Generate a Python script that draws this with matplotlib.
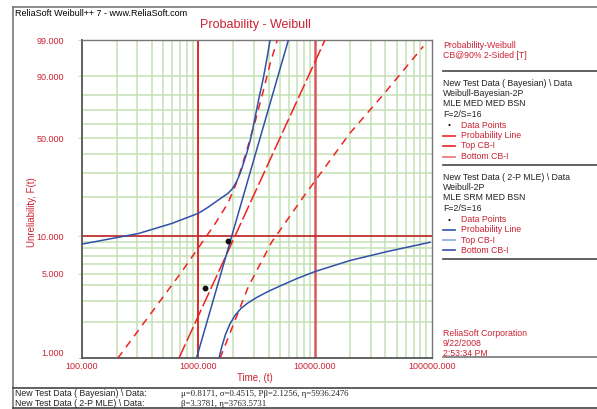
import numpy as np
import matplotlib
matplotlib.use('Agg')
import matplotlib.pyplot as plt
from matplotlib.lines import Line2D

# Weibull parameters as printed under the chart
bayes_beta, bayes_eta = 2.1256, 5936.2476
mle_beta, mle_eta = 3.3781, 3763.5731

# failure data points (time, median rank %)
data_time = [1141, 1807]
data_unrel = [3.80, 9.24]

# confidence bound curves (time, unreliability %)
blue_top_t = [97, 306, 592, 1000, 1211, 1438, 1661, 1797, 1932, 2063, 2202, 2322, 2417,
              2588, 2773, 2913, 3059, 3312, 3606, 3879, 4157]
blue_top_f = [8.6, 10.5, 12.6, 15.1, 16.8, 18.7, 20.4, 21.4, 22.8, 24.8, 27.7, 30.9, 34.2,
              40.1, 48.0, 55.7, 64.1, 77.9, 89.0, 96.1, 99.2]
blue_bot_t = [1514, 1597, 1711, 1869, 2063, 2322, 2667, 3184, 3957, 5013, 7012, 10000,
              19950, 41150, 96700]
blue_bot_f = [1.03, 1.27, 1.58, 1.93, 2.27, 2.59, 2.88, 3.20, 3.57, 3.96, 4.56, 5.20,
              6.39, 7.53, 8.95]
red_top_t = [204, 721, 1390, 1797, 2104, 2368, 2667, 3061, 3585, 4116, 4753]
red_top_f = [1.0, 5.18, 12.5, 18.1, 25.0, 33.5, 45.0, 61.3, 81.6, 94.5, 99.0]
red_bot_t = [1535, 2681, 4256, 8206, 19950, 38480, 84750]
red_bot_f = [1.0, 3.9, 9.0, 20.9, 53.6, 80.0, 98.3]

# axis ticks / grid levels
y_ticks = [1, 5, 10, 50, 90, 99]
y_grid = [2, 3, 4, 5, 6, 7, 8, 9, 20, 30, 40, 50, 60, 70, 80, 90]
x_ticks = [100, 1000, 10000, 100000]


def wb(f):
    # Weibull probability scale
    f = np.asarray(f, dtype=float) / 100.0
    return np.log(-np.log(1 - f))


W, H = 597, 409
fig = plt.figure(figsize=(W / 100, H / 100), dpi=100)
plt.rcParams['font.family'] = ['Liberation Sans', 'DejaVu Sans']


def fx(x):
    return x / W


def fy(y):
    return 1 - y / H


red_txt = '#cc2233'
green = '#c4e0b4'
blue = '#3050a8'
red = '#ee2222'

ax = fig.add_axes([fx(81.6), fy(358.3), fx(431.7) - fx(81.6), fy(40) - fy(358.3)])
ax.set_xscale('log')
ax.set_xlim(100, 100000)
ax.set_ylim(wb(1), wb(99))

# grid
for g in y_grid:
    ax.axhline(wb(g), color=green, lw=1.1, zorder=1)
for dec in [100, 1000, 10000]:
    for m in range(2, 10):
        ax.axvline(dec * m, color=green, lw=1.1, zorder=1)
ax.axvline(1000, color='#e02828', lw=1.4, zorder=2)
ax.axvline(10000, color='#d85858', lw=1.8, zorder=2)
ax.axhline(wb(10), color='#c03030', lw=1.3, zorder=2)

# Bayesian (red) lines
w_line = np.array([wb(1), wb(99)])
ax.plot(bayes_eta * np.exp(w_line / bayes_beta), w_line, color=red, lw=1.1,
        dashes=(10, 2.5), zorder=3)
ax.plot(red_top_t, wb(red_top_f), color=red, lw=1.1, dashes=(5, 4), zorder=3)
ax.plot(red_bot_t, wb(red_bot_f), color=red, lw=1.1, dashes=(5, 4), zorder=3)

# 2P MLE (blue) lines
ax.plot(mle_eta * np.exp(w_line / mle_beta), w_line, color=blue, lw=1.1, zorder=4)
ax.plot(blue_top_t, wb(blue_top_f), color=blue, lw=1.1, zorder=4)
ax.plot(blue_bot_t, wb(blue_bot_f), color=blue, lw=1.1, zorder=4)

ax.plot(data_time, wb(data_unrel), 'o', color='#111111', ms=3.2, zorder=5)

ax.set_xticks(x_ticks)
ax.set_xticklabels(['%.3f' % v for v in x_ticks], color=red_txt, fontsize=6.5)
ax.set_yticks(wb(y_ticks))
ax.set_yticklabels(['%.3f' % v for v in y_ticks], color=red_txt, fontsize=6.5)
ax.minorticks_off()
ax.tick_params(axis='y', length=3, color=green, pad=9.5)
ax.tick_params(axis='x', length=0, pad=3)
ax.get_yticklabels()[0].set_va('bottom')
for s in ['left', 'bottom']:
    ax.spines[s].set_color('#555555')
    ax.spines[s].set_linewidth(1.3)
for s in ['top', 'right']:
    ax.spines[s].set_color('#777777')
    ax.spines[s].set_linewidth(1.0)

fig.text(fx(255), fy(378), 'Time, (t)', color=red_txt, fontsize=7, ha='center', va='center')
fig.text(fx(32), fy(212), 'Unreliability, F(t)', color=red_txt, fontsize=7,
         rotation=90, ha='center', va='center')
fig.text(fx(255), fy(25), 'Probability - Weibull', color=red_txt, fontsize=9,
         ha='center', va='center')
fig.text(fx(15), fy(13), 'ReliaSoft Weibull++ 7 - www.ReliaSoft.com', color='black',
         fontsize=6.5, ha='left', va='center')


def hline(x0, x1, y, color='#555555', lw=1.3):
    fig.add_artist(Line2D([fx(x0), fx(x1)], [fy(y), fy(y)], color=color, lw=lw,
                          transform=fig.transFigure))


# outer frame
fig.add_artist(Line2D([fx(13), fx(13)], [fy(6.5), fy(409)], color='#777777', lw=1.2,
                      transform=fig.transFigure))
hline(13, 597, 6.5, '#777777', 1.2)
hline(13, 597, 388, '#444444', 1.2)
hline(13, 597, 408, '#444444', 1.2)

# right legend panel
lx = 443
fs = 6.3
fig.text(fx(lx), fy(45), 'Probability-Weibull', color=red_txt, fontsize=fs, va='center')
fig.text(fx(lx), fy(56), 'CB@90% 2-Sided [T]', color=red_txt, fontsize=fs, va='center')
hline(lx, 597, 71)

blocks = [
    (83, ['New Test Data ( Bayesian) \\ Data', 'Weibull-Bayesian-2P', 'MLE MED MED BSN', 'F=2/S=16'],
     [red, red, '#f07070']),
    (177, ['New Test Data ( 2-P MLE) \\ Data', 'Weibull-2P', 'MLE SRM MED BSN', 'F=2/S=16'],
     [blue, '#8aa4dc', blue]),
]
for y0, lines, cols in blocks:
    for i, s in enumerate(lines):
        fig.text(fx(lx), fy(y0 + i * 10.5), s, color='#222222', fontsize=fs, va='center')
    ye = y0 + 42
    fig.text(fx(lx + 6), fy(ye + 1), '•', color='#111111', fontsize=6, ha='center', va='center')
    labels = ['Data Points', 'Probability Line', 'Top CB-I', 'Bottom CB-I']
    for j, lab in enumerate(labels):
        fig.text(fx(lx + 18), fy(ye + j * 10.5), lab, color=red_txt, fontsize=fs, va='center')
        if j > 0:
            hline(lx, lx + 12, ye + j * 10.5, cols[j - 1], 1.2)
    hline(lx, 597, y0 + 82)

fig.text(fx(lx), fy(333), 'ReliaSoft Corporation', color=red_txt, fontsize=fs, va='center')
fig.text(fx(lx), fy(343.5), '9/22/2008', color=red_txt, fontsize=fs, va='center')
fig.text(fx(lx), fy(354), '2:53:34 PM', color=red_txt, fontsize=fs, va='center')
hline(lx, 597, 357, '#777777', 1.2)

# bottom parameter rows
fig.text(fx(15), fy(394), 'New Test Data ( Bayesian) \\ Data:', color='#222222', fontsize=fs, va='center')
fig.text(fx(15), fy(404), 'New Test Data ( 2-P MLE) \\ Data:', color='#222222', fontsize=fs, va='center')
fig.text(fx(181), fy(394), 'μ=0.8171, σ=0.4515, Pβ=2.1256, η=5936.2476', color='#222222',
         fontsize=6.3, family=['Liberation Serif', 'DejaVu Serif'], va='center')
fig.text(fx(181), fy(404), 'β=3.3781, η=3763.5731', color='#222222',
         fontsize=6.3, family=['Liberation Serif', 'DejaVu Serif'], va='center')

fig.savefig('out.png', dpi=100)
